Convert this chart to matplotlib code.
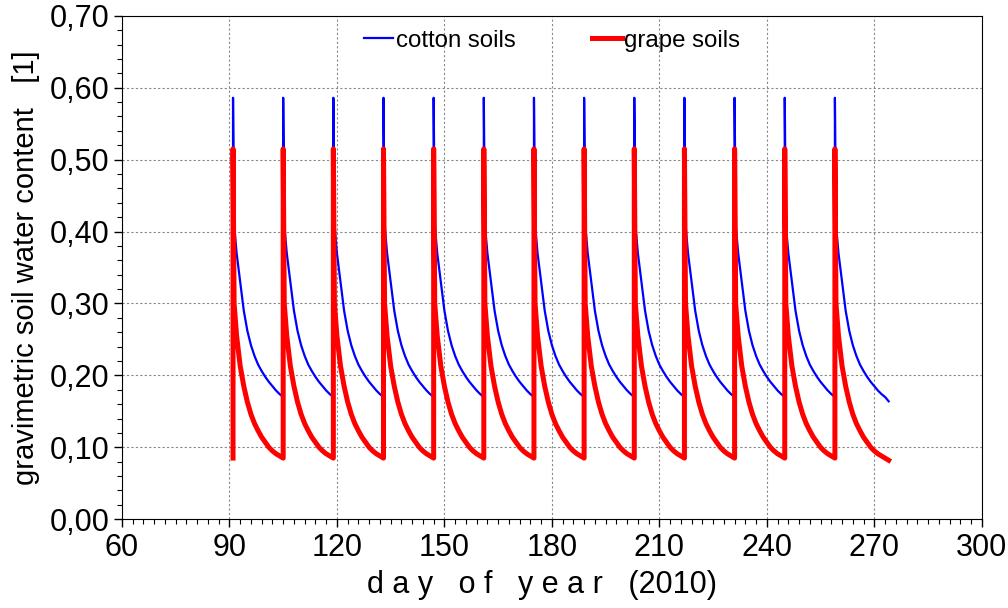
import matplotlib
matplotlib.use("Agg")
import matplotlib.pyplot as plt
from matplotlib.ticker import MultipleLocator, FuncFormatter

plt.rcParams['font.family'] = ['Liberation Sans', 'DejaVu Sans']

# irrigation events (day of year) and end of simulation
irrigation_days = [91, 105, 119, 133, 147, 161, 175, 189, 203, 217, 231, 245, 259]
end_day = 274

cycle_t = [0.0, 0.3, 1, 2, 3, 4, 5, 6, 7, 8, 9, 10, 11, 12, 13, 14, 15]
cotton_cycle = [0.586, 0.41, 0.37, 0.33, 0.29, 0.262, 0.242, 0.227, 0.215, 0.206,
                0.198, 0.191, 0.185, 0.179, 0.174, 0.170, 0.164]
grape_cycle = [0.515, 0.30, 0.255, 0.213, 0.185, 0.163, 0.146, 0.133, 0.123, 0.114,
               0.107, 0.100, 0.095, 0.091, 0.088, 0.085, 0.082]
cotton_start = 0.17
grape_start = 0.085


def build_series(start, cycle):
    xs, ys = [irrigation_days[0]], [start]
    stops = irrigation_days[1:] + [end_day]
    for d, stop in zip(irrigation_days, stops):
        for t, v in zip(cycle_t, cycle):
            if d + t <= stop:
                xs.append(d + t)
                ys.append(v)
    return xs, ys


cx, cy = build_series(cotton_start, cotton_cycle)
gx, gy = build_series(grape_start, grape_cycle)

fig = plt.figure(figsize=(10.08, 6.08), dpi=100)
ax = fig.add_axes([0.121, 0.146, 0.853, 0.828])

ax.plot(cx, cy, color='#0000ff', lw=1.6, label='cotton soils')
ax.plot(gx, gy, color='#ff0000', lw=3.6, label='grape soils')

ax.set_xlim(60, 300)
ax.set_ylim(0, 0.70)
ax.xaxis.set_major_locator(MultipleLocator(30))
ax.xaxis.set_minor_locator(MultipleLocator(3))
ax.yaxis.set_major_locator(MultipleLocator(0.1))
ax.yaxis.set_minor_locator(MultipleLocator(0.02))
ax.yaxis.set_major_formatter(FuncFormatter(lambda v, p: f"{v:.2f}".replace('.', ',')))

ax.tick_params(which='major', direction='out', length=6, width=1, labelsize=22, pad=3)
ax.tick_params(which='minor', direction='out', length=3.5, width=0.8)
ax.tick_params(axis='x', which='major', pad=4)
ax.grid(True, which='major', color='#888888', linestyle=(0, (2, 2)), linewidth=0.8)

ax.set_ylabel('gravimetric soil water content   [1]', fontsize=21)
ax.yaxis.set_label_coords(-0.095, 0.5)
ax.set_xlabel('d a y   o f   y e a r   (2010)', fontsize=22)
ax.xaxis.set_label_coords(0.488, -0.1)

ax.legend(loc='upper center', bbox_to_anchor=(0.5, 1.015), ncol=2, frameon=False,
          fontsize=17.3, handlelength=1.23, handletextpad=0.1, columnspacing=3.2)

fig.savefig('out.png', dpi=100)
